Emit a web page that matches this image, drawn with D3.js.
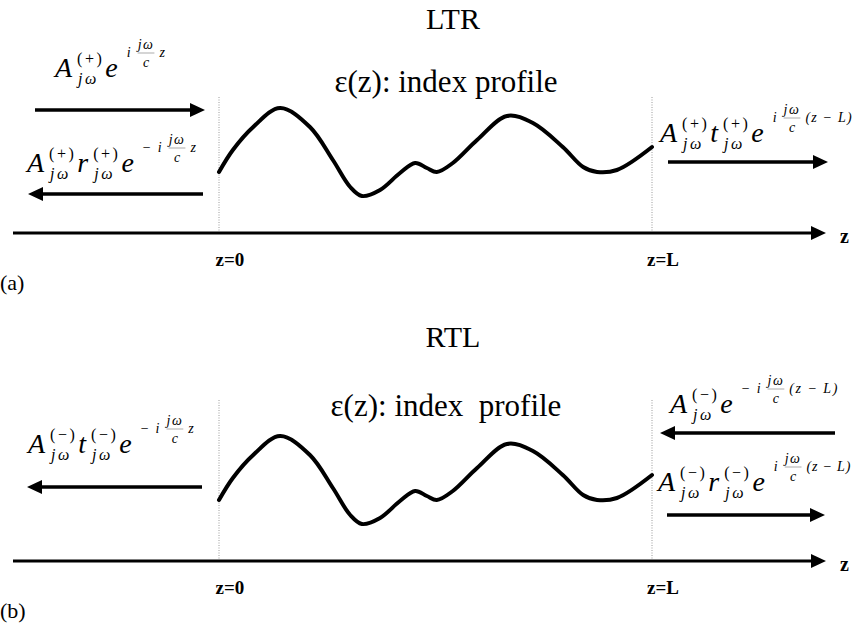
<!DOCTYPE html>
<html>
<head>
<meta charset="utf-8">
<script src="https://cdn.jsdelivr.net/npm/d3@7"></script>
<style>
  html, body { margin: 0; padding: 0; background: #fff; }
  svg { display: block; }
</style>
</head>
<body>
<svg id="chart" width="853" height="623"></svg>
<script>
// ---- data ----
const panels = ["LTR", "RTL"];
const panelLetters = ["(a)", "(b)"];
const profileTitles = ["ε(z): index profile", "ε(z): index  profile"];
// index profile epsilon(z), z normalised to [0, L=1]
const zPos = [0, 0.032, 0.079, 0.141, 0.210, 0.263, 0.303, 0.330, 0.372, 0.418, 0.453, 0.480, 0.503, 0.540, 0.596, 0.665, 0.725, 0.794, 0.841, 0.873, 0.919, 1.0];
const epsVal = [0.28, 0.50, 0.73, 0.92, 0.73, 0.40, 0.13, 0.04, 0.10, 0.27, 0.37, 0.32, 0.28, 0.37, 0.60, 0.84, 0.77, 0.53, 0.33, 0.28, 0.30, 0.53];
const zTickPos = [0, 1];
const zTickLabels = ["z=0", "z=L"];
const axisLabel = "z";

// ---- layout ----
const FONT = "Liberation Serif";
const svg = d3.select("#chart").attr("font-family", FONT);
const x = d3.scaleLinear().domain([0, 1]).range([219, 652]);
const panelOffset = [0, 328];

function T(g) { return g.append("text").attr("font-family", FONT).attr("fill", "#000"); }

function arrow(g, x1, y, x2, w = 3.5) {
  const dir = Math.sign(x2 - x1);
  const hl = 15, hw = 7;
  g.append("line").attr("x1", x1).attr("y1", y).attr("x2", x2 - dir * (hl - 2)).attr("y2", y)
    .attr("stroke", "#000").attr("stroke-width", w);
  g.append("path")
    .attr("d", `M${x2},${y} L${x2 - dir * hl},${y - hw} L${x2 - dir * hl},${y + hw} Z`)
    .attr("fill", "#000");
}

function formula(g, x0, y0, tokens) {
  const fg = g.append("g");
  let cx = x0;
  function txt(str, tx, ty, size, italic, ls, anchor) {
    const el = T(fg).attr("x", tx).attr("y", ty)
      .attr("font-size", size)
      .attr("font-style", italic ? "italic" : "normal")
      .attr("text-anchor", anchor || "start")
      .style("letter-spacing", ls ? ls + "px" : null)
      .text(str);
    return el.node().getComputedTextLength();
  }
  tokens.forEach(tok => {
    if (tok.big) {
      const w = txt(tok.big, cx, y0, 28, true);
      cx += w + 5;
    } else if (tok.ss) {
      const w1 = txt(tok.ss[0], cx, y0 - 13, 16, false, 2.5);
      const w2 = txt(tok.ss[1], cx + 1, y0 + 7, 16, true, 2.5);
      cx += Math.max(w1, w2) + 1;
    } else if (tok.exp) {
      let ex = cx + 4;
      const yb = y0 - 20;
      tok.exp.forEach(e => {
        if (e.fr) {
          const el = T(fg).attr("font-size", 14).attr("font-style", "italic")
            .style("letter-spacing", "1.5px").text(e.fr[0]);
          const w = el.node().getComputedTextLength();
          el.attr("x", ex).attr("y", yb - 8);
          fg.append("line").attr("x1", ex).attr("x2", ex + w).attr("y1", yb - 4).attr("y2", yb - 4)
            .attr("stroke", "#888").attr("stroke-width", 0.7);
          txt(e.fr[1], ex + w / 2, yb + 10, 14, true, 0, "middle");
          ex += w + 5;
        } else {
          const w = txt(e.s, ex, yb, 14, e.it !== false, e.ls || 0);
          ex += w + 7;
        }
      });
      cx = ex;
    }
  });
}

const frac = { fr: ["jω", "c"] };
const formulas = [
  // panel a
  { p: 0, x: 55, y: 77, t: [{ big: "A" }, { ss: ["(+)", "jω"] }, { big: "e" }, { exp: [{ s: "i" }, frac, { s: "z" }] }] },
  { p: 0, x: 27, y: 172, t: [{ big: "A" }, { ss: ["(+)", "jω"] }, { big: "r" }, { ss: ["(+)", "jω"] }, { big: "e" }, { exp: [{ s: "−", it: false }, { s: "i" }, frac, { s: "z" }] }] },
  { p: 0, x: 660, y: 142, t: [{ big: "A" }, { ss: ["(+)", "jω"] }, { big: "t" }, { ss: ["(+)", "jω"] }, { big: "e" }, { exp: [{ s: "i" }, frac, { s: "(z − L)", ls: 1.2 }] }] },
  // panel b
  { p: 1, x: 28, y: 453 - 328, t: [{ big: "A" }, { ss: ["(−)", "jω"] }, { big: "t" }, { ss: ["(−)", "jω"] }, { big: "e" }, { exp: [{ s: "−", it: false }, { s: "i" }, frac, { s: "z" }] }] },
  { p: 1, x: 670, y: 413 - 328, t: [{ big: "A" }, { ss: ["(−)", "jω"] }, { big: "e" }, { exp: [{ s: "−", it: false }, { s: "i" }, frac, { s: "(z − L)", ls: 1.5 }] }] },
  { p: 1, x: 658, y: 491 - 328, t: [{ big: "A" }, { ss: ["(−)", "jω"] }, { big: "r" }, { ss: ["(−)", "jω"] }, { big: "e" }, { exp: [{ s: "i" }, frac, { s: "(z − L)", ls: 0.8 }] }] }
];

const arrowsDef = [
  { p: 0, x1: 35, y: 110, x2: 205 },
  { p: 0, x1: 203, y: 194, x2: 28 },
  { p: 0, x1: 668, y: 162, x2: 828 },
  { p: 1, x1: 202, y: 487 - 328, x2: 27 },
  { p: 1, x1: 835, y: 433 - 328, x2: 660 },
  { p: 1, x1: 667, y: 515 - 328, x2: 825 }
];

panels.forEach((name, i) => {
  const g = svg.append("g").attr("transform", `translate(0,${panelOffset[i]})`);
  const y = d3.scaleLinear().domain([0, 1]).range([200, 100]);

  // title
  T(g).attr("x", 453).attr("y", i === 0 ? 29 : 19).attr("text-anchor", "middle")
    .attr("font-size", 30).text(name);
  // profile label
  T(g).attr("x", 446).attr("y", i === 0 ? 92 : 88).attr("text-anchor", "middle")
    .attr("font-size", 31).attr("xml:space", "preserve").style("white-space", "pre").text(profileTitles[i]);

  // dotted boundaries
  zTickPos.forEach(z => {
    g.append("line").attr("x1", x(z)).attr("x2", x(z)).attr("y1", i === 0 ? 97 : 72).attr("y2", 233)
      .attr("stroke", "#9a9a9a").attr("stroke-width", 1).attr("stroke-dasharray", "1,1.5");
  });

  // index profile
  const line = d3.line().x((d, k) => x(zPos[k])).y(d => y(d)).curve(d3.curveCatmullRom.alpha(0.5));
  g.append("path").datum(epsVal).attr("d", line).attr("fill", "none")
    .attr("stroke", "#000").attr("stroke-width", 4).attr("stroke-linecap", "round");

  // z axis
  arrow(g, 13, 233, 826, 3);
  T(g).attr("x", 840).attr("y", 243).attr("font-size", 20).attr("font-weight", "bold").text(axisLabel);
  zTickPos.forEach((z, k) => {
    T(g).attr("x", x(z) + 11).attr("y", 266).attr("text-anchor", "middle")
      .attr("font-size", 19).attr("font-weight", "bold").text(zTickLabels[k]);
  });
  T(g).attr("x", 0).attr("y", 290).attr("font-size", 22).text(panelLetters[i]);

  arrowsDef.filter(a => a.p === i).forEach(a => arrow(g, a.x1, a.y, a.x2));
  formulas.filter(f => f.p === i).forEach(f => formula(g, f.x, f.y, f.t));
});
</script>
</body>
</html>
